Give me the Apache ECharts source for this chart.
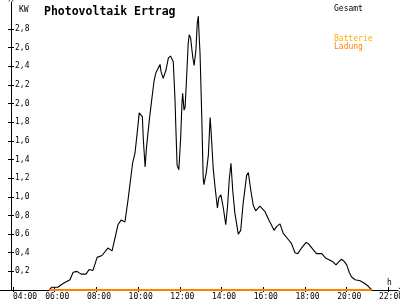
<!DOCTYPE html>
<html><head><meta charset="utf-8">
<script src="https://cdn.jsdelivr.net/npm/echarts@6/dist/echarts.min.js"></script>
<style>html,body{margin:0;padding:0;background:#fff}#c{width:400px;height:300px}</style>
</head><body><div id="c"></div>
<script>
// Gesamt (total PV yield, kW)
var gesamtTimes = ["05:44","05:52","06:09","06:24","06:44","06:53","07:04","07:16","07:30","07:39","07:50","08:02","08:16","08:33","08:45","08:50","09:02","09:11","09:22","09:31","09:36","09:44","09:51","09:59","10:03","10:07","10:12","10:15","10:20","10:24","10:32","10:39","10:46","10:51","11:03","11:06","11:12","11:20","11:27","11:33","11:41","11:46","11:49","11:52","11:57","12:02","12:06","12:08","12:12","12:15","12:19","12:24","12:27","12:31","12:37","12:41","12:46","12:50","12:53","12:55","12:58","13:03","13:07","13:09","13:16","13:22","13:27","13:29","13:36","13:41","13:48","13:52","13:58","14:05","14:12","14:17","14:22","14:27","14:32","14:38","14:48","14:55","15:02","15:12","15:17","15:24","15:31","15:38","15:50","16:05","16:16","16:31","16:38","16:48","16:57","17:10","17:21","17:31","17:39","17:50","18:03","18:09","18:24","18:33","18:48","19:00","19:12","19:21","19:29","19:36","19:45","19:52","20:00","20:07","20:14","20:24","20:38","20:52","21:02","21:12"];
var gesamtValues = [0,0.03,0.03,0.07,0.11,0.19,0.20,0.17,0.17,0.22,0.21,0.35,0.37,0.45,0.42,0.42,0.70,0.75,0.73,0.97,0.98,1.36,1.47,1.75,1.90,1.92,1.86,1.61,1.32,1.53,1.82,2.04,2.25,2.33,2.42,2.34,2.27,2.36,2.49,2.51,2.45,2.04,1.68,1.34,1.29,1.61,2.00,2.11,1.93,1.96,2.25,2.65,2.74,2.70,2.50,2.41,2.57,2.86,2.94,2.76,2.54,1.86,1.21,1.13,1.26,1.45,1.85,1.75,1.30,1.11,0.88,0.99,1.02,0.88,0.70,0.89,1.18,1.36,1.07,0.83,0.60,0.64,0.93,1.23,1.26,1.07,0.91,0.85,0.90,0.84,0.75,0.64,0.68,0.71,0.61,0.55,0.50,0.40,0.39,0.45,0.51,0.50,0.43,0.39,0.39,0.34,0.32,0.30,0.27,0.30,0.33,0.31,0.27,0.19,0.14,0.11,0.10,0.07,0.04,0];
// Batterie Ladung (battery charge), zero over the whole period
var ladungTimes = ["05:44","21:12"];
var ladungValues = [0,0];
var batterieTimes = [];
var batterieValues = [];
// tick labels
var xTickHours = [4,6,8,10,12,14,16,18,20,22];
var yTickValues = [0.2,0.4,0.6,0.8,1.0,1.2,1.4,1.6,1.8,2.0,2.2,2.4,2.6,2.8];

function toH(t){var p=t.split(':');return +p[0]+ (+p[1])/60;}
function pairs(ts,vs){return ts.map(function(t,i){return [toH(t),vs[i]];});}
function pad(n){return (n<10?'0':'')+n;}

var mono = 'DejaVu Sans Mono';
var arrow = 'path://M0,10 L5,0 L10,10 L8.6,10 L5,2.8 L1.4,10 Z';
var chart = echarts.init(document.getElementById('c'), null, {renderer:'canvas'});
chart.setOption({
  animation:false,
  backgroundColor:'#ffffff',
  grid:{left:0,right:2,top:2,bottom:10,containLabel:false,outerBoundsMode:'none'},
  title:[
    {text:'Photovoltaik Ertrag',left:39,top:1,textStyle:{fontFamily:mono,fontWeight:'bold',fontSize:11.5,color:'#000'}},
    {text:'KW',left:14,top:1,textStyle:{fontFamily:mono,fontWeight:'normal',fontSize:8,color:'#000'}},
    {text:'Gesamt',left:329,top:0,textStyle:{fontFamily:mono,fontWeight:'normal',fontSize:8,color:'#000'}},
    {text:'Batterie',left:329,top:30,textStyle:{fontFamily:mono,fontWeight:'normal',fontSize:8,color:'#ffb000'}},
    {text:'Ladung',left:329,top:38,textStyle:{fontFamily:mono,fontWeight:'normal',fontSize:8,color:'#ff8000'}},
    {text:'h',left:382,top:274,textStyle:{fontFamily:mono,fontWeight:'normal',fontSize:8,color:'#000'}}
  ],
  xAxis:[{
    type:'value',min:3.377,max:22.457,
    axisLine:{show:true,lineStyle:{color:'#000',width:1},symbol:['none',arrow],symbolSize:[6,5],symbolOffset:[0,3]},
    axisTick:{show:true,inside:true,length:3,customValues:xTickHours,lineStyle:{color:'#000'}},
    axisLabel:{show:true,margin:3,customValues:xTickHours,fontFamily:mono,fontSize:8,color:'#000',
      alignMinLabel:'left',
      formatter:function(v){var h=Math.round(v);return (h===xTickHours[0]?'{a|':'{b|')+pad(h)+':00}';},
      rich:{a:{fontFamily:mono,fontSize:8,color:'#000'},b:{fontFamily:mono,fontSize:8,color:'#000',padding:[0,0,0,5]}}},
    splitLine:{show:false}
  },{
    type:'value',min:3.377,max:22.457,position:'bottom',
    axisLine:{show:false},
    axisTick:{show:true,inside:false,length:2,customValues:xTickHours,lineStyle:{color:'#000'}},
    axisLabel:{show:false},splitLine:{show:false}
  }],
  yAxis:[{
    type:'value',min:0,max:3.09,offset:-11,
    axisLine:{show:true,lineStyle:{color:'#000',width:1},symbol:['none',arrow],symbolSize:[6,5],symbolOffset:[0,3]},
    axisTick:{show:true,inside:false,length:3,customValues:yTickValues,lineStyle:{color:'#000'}},
    axisLabel:{show:true,inside:true,margin:4,customValues:yTickValues,fontFamily:mono,fontSize:8,color:'#000',
      formatter:function(v){return v.toFixed(1).replace('.',',');}},
    splitLine:{show:false}
  },{
    type:'value',min:0,max:3.09,offset:-11,position:'left',
    axisLine:{show:false},
    axisTick:{show:true,inside:true,length:3,customValues:yTickValues,lineStyle:{color:'#000'}},
    axisLabel:{show:false},splitLine:{show:false}
  }],
  series:[
    {name:'Gesamt',type:'line',data:pairs(gesamtTimes,gesamtValues),showSymbol:false,smooth:false,
      lineStyle:{color:'#000',width:1.1},itemStyle:{color:'#000'},z:3},
    {name:'Batterie',type:'line',data:pairs(batterieTimes,batterieValues),showSymbol:false,
      lineStyle:{color:'#ffb000',width:2},z:4},
    {name:'Ladung',type:'line',data:pairs(ladungTimes,ladungValues),showSymbol:false,
      lineStyle:{color:'#ff8000',width:2},z:5}
  ]
});
</script></body></html>
